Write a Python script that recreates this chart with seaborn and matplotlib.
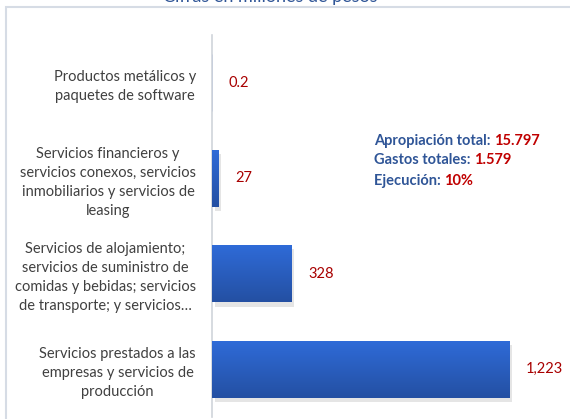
import matplotlib
matplotlib.use("Agg")
import matplotlib.pyplot as plt
import matplotlib.patheffects as pe
from matplotlib.patches import Rectangle
import numpy as np
import pandas as pd
import seaborn as sns

categories = [
    "Productos metálicos y\npaquetes de software",
    "Servicios financieros y\nservicios conexos, servicios\ninmobiliarios y servicios de\nleasing",
    "Servicios de alojamiento;\nservicios de suministro de\ncomidas y bebidas; servicios\nde transporte; y servicios…",
    "Servicios prestados a las\nempresas y servicios de\nproducción",
]
values = [0.2, 27, 328, 1223]
value_labels = ["0.2", "27", "328", "1,223"]
title = "Cifras en millones de pesos"
summary_keys = ["Apropiación total: ", "Gastos totales: ", "Ejecución: "]
summary_vals = ["15.797", "1.579", "10%"]

BLUE_TXT = "#2F5597"
RED_TXT = "#C00000"
GRAY_TXT = "#404040"


def main():
    sns.set_style("white")
    plt.rcParams["font.family"] = ["Lato", "DejaVu Sans"]

    df = pd.DataFrame({"cat": categories, "val": values})

    fig = plt.figure(figsize=(5.7, 4.19), dpi=100)
    W, H = 570, 419
    ax = fig.add_axes([212 / W, 1 - 417 / H, (570 - 212) / W, (417 - 35) / H])

    sns.barplot(df, x="val", y="cat", ax=ax, color="#2E64C8", width=0.6,
                orient="h", edgecolor="#8FB0E6", linewidth=0.6)
    ax.set_xlabel("")
    ax.set_ylabel("")
    ax.set_xticks([])

    # gradient fill + soft shadow on each bar
    grad = np.linspace(0, 1, 50).reshape(-1, 1)
    cmap = matplotlib.colors.LinearSegmentedColormap.from_list(
        "bar", ["#2F6BD8", "#2450A3"])
    for p in ax.patches:
        x0, y0, w, h = p.get_x(), p.get_y(), p.get_width(), p.get_height()
        if w > 5:
            p.set_edgecolor("none")
            p.set_path_effects([pe.SimplePatchShadow(offset=(2, -3), alpha=0.15,
                                                     shadow_rgbFace="#555555"),
                                pe.Normal()])
            im = ax.imshow(grad, extent=(x0, x0 + w, y0 + h, y0), cmap=cmap,
                           aspect="auto", zorder=3)
            im.set_clip_path(p)
    ax.set_xlim(0, 1473)
    ax.set_ylim(3.5, -0.5)

    for i, (v, lab) in enumerate(zip(values, value_labels)):
        ax.annotate(lab, xy=(v, i), xytext=(12, 0), textcoords="offset points",
                    va="center", ha="left", color="#A80000", fontsize=10.5)

    ax.set_yticks(range(len(categories)))
    ax.set_yticklabels(categories, ha="right", multialignment="center",
                       color=GRAY_TXT, fontsize=10.5, linespacing=1.45)
    ax.tick_params(axis="y", length=0, pad=11.5)

    for s in ["top", "right", "bottom"]:
        ax.spines[s].set_visible(False)
    ax.spines["left"].set_color("#D0D4DA")
    ax.spines["left"].set_linewidth(1.2)

    # outer frame and clipped title
    fig.patches.append(Rectangle((6 / W, -0.1), 1.2, 1.1 - 7 / H, fill=False,
                                 edgecolor="#D6DCE5", linewidth=1.5,
                                 transform=fig.transFigure, figure=fig))
    fig.text(270 / W, 1 + 3 / H, title, ha="center", va="center",
             color=BLUE_TXT, fontsize=13)

    ys = [141, 160, 181]
    for k, v, y in zip(summary_keys, summary_vals, ys):
        t = fig.text(374 / W, 1 - y / H, k, ha="left", va="center",
                     color=BLUE_TXT, fontsize=10.5, fontweight="bold")
        ax.annotate(v, xy=(1, 0.5), xycoords=t, va="center", ha="left",
                    color=RED_TXT, fontsize=10.5, fontweight="bold",
                    annotation_clip=False)

    fig.savefig("out.png", dpi=100)


if __name__ == "__main__":
    main()
